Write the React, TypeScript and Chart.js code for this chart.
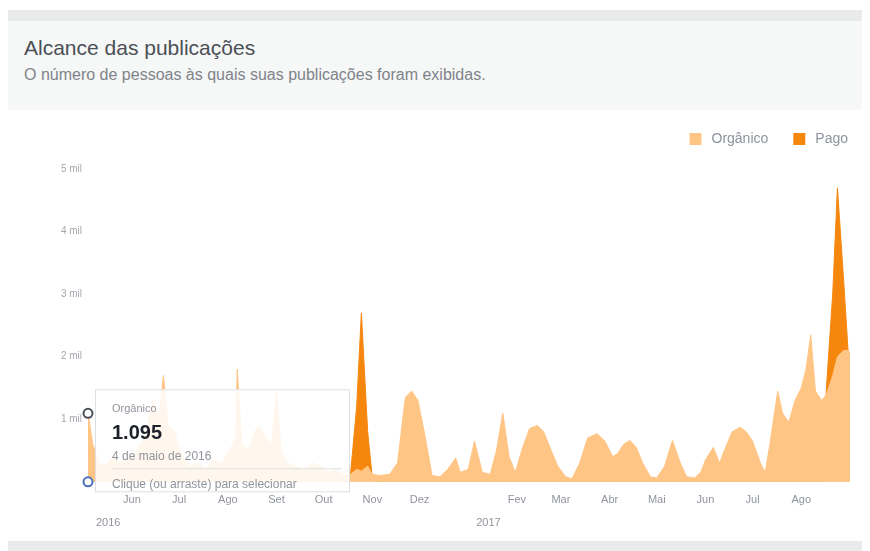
import { useEffect, useRef } from 'react';
import { Chart, registerables } from 'chart.js';

Chart.register(...registerables);

const FONTE = "'Liberation Sans', Arial, sans-serif";
Chart.defaults.font.family = FONTE;

// Datas (categorias) e séries
const datas = [
  '2016-05-04', '2016-05-07', '2016-05-11', '2016-05-15', '2016-05-20', '2016-05-24', '2016-05-29', '2016-06-04', '2016-06-09', '2016-06-11',
  '2016-06-14', '2016-06-18', '2016-06-21', '2016-06-24', '2016-06-28', '2016-07-03', '2016-07-08', '2016-07-13', '2016-07-18', '2016-07-23',
  '2016-07-28', '2016-08-02', '2016-08-06', '2016-08-07', '2016-08-10', '2016-08-14', '2016-08-18', '2016-08-21', '2016-08-25', '2016-08-29',
  '2016-09-01', '2016-09-04', '2016-09-08', '2016-09-13', '2016-09-18', '2016-09-24', '2016-09-29', '2016-10-04', '2016-10-09', '2016-10-14',
  '2016-10-18', '2016-10-22', '2016-10-25', '2016-10-29', '2016-11-01', '2016-11-06', '2016-11-12', '2016-11-17', '2016-11-22', '2016-11-26',
  '2016-11-30', '2016-12-04', '2016-12-09', '2016-12-14', '2016-12-19', '2016-12-24', '2016-12-27', '2017-01-01', '2017-01-05', '2017-01-10',
  '2017-01-15', '2017-01-19', '2017-01-23', '2017-01-27', '2017-01-31', '2017-02-04', '2017-02-09', '2017-02-14', '2017-02-18', '2017-02-22',
  '2017-02-27', '2017-03-04', '2017-03-08', '2017-03-13', '2017-03-18', '2017-03-24', '2017-03-29', '2017-04-03', '2017-04-06', '2017-04-10',
  '2017-04-14', '2017-04-18', '2017-04-22', '2017-04-27', '2017-05-01', '2017-05-06', '2017-05-11', '2017-05-16', '2017-05-20', '2017-05-25',
  '2017-05-29', '2017-06-01', '2017-06-06', '2017-06-10', '2017-06-13', '2017-06-18', '2017-06-23', '2017-06-27', '2017-07-01', '2017-07-06',
  '2017-07-09', '2017-07-12', '2017-07-17', '2017-07-20', '2017-07-24', '2017-07-28', '2017-08-01', '2017-08-04', '2017-08-07', '2017-08-10',
  '2017-08-14', '2017-08-17', '2017-08-21', '2017-08-24', '2017-08-28', '2017-08-31', '2017-09-01',
];

const organico = [
  1095, 600, 300, 250, 400, 300, 350, 500, 700, 900,
  1300, 1000, 1700, 900, 800, 400, 250, 300, 200, 350,
  300, 500, 700, 1800, 600, 500, 800, 900, 700, 600,
  1450, 500, 300, 250, 200, 300, 250, 150, 200, 100,
  120, 200, 170, 250, 120, 100, 120, 300, 1350, 1450,
  1300, 800, 100, 80, 200, 380, 150, 200, 650, 150,
  120, 500, 1100, 400, 150, 500, 850, 900, 800, 550,
  250, 80, 50, 300, 700, 770, 650, 400, 450, 600,
  660, 550, 300, 80, 60, 250, 660, 300, 80, 60,
  150, 350, 550, 300, 500, 800, 870, 800, 650, 300,
  150, 600, 1450, 1100, 950, 1300, 1500, 1800, 2350, 1450,
  1300, 1400, 1700, 2000, 2100, 2100, 2050,
];

const pago = [
  0, 0, 0, 0, 0, 0, 0, 0, 0, 0,
  0, 0, 0, 0, 0, 0, 0, 0, 0, 0,
  0, 0, 0, 0, 0, 0, 0, 0, 0, 0,
  0, 0, 0, 0, 0, 0, 0, 0, 0, 0,
  100, 1200, 2700, 800, 50, 0, 0, 0, 0, 0,
  0, 0, 0, 0, 0, 0, 0, 0, 0, 0,
  0, 0, 0, 0, 0, 0, 0, 0, 0, 0,
  0, 0, 0, 0, 0, 0, 0, 0, 0, 0,
  0, 0, 0, 0, 0, 0, 0, 0, 0, 0,
  0, 0, 0, 0, 0, 0, 0, 0, 0, 0,
  0, 0, 0, 0, 0, 0, 0, 0, 0, 0,
  0, 1500, 3000, 4700, 3200, 2000, 1800,
];

const inicioMeses = [
  '2016-06-01', '2016-07-01', '2016-08-01', '2016-09-01', '2016-10-01', '2016-11-01', '2016-12-01', '2017-01-01',
  '2017-02-01', '2017-03-01', '2017-04-01', '2017-05-01', '2017-06-01', '2017-07-01', '2017-08-01',
];
const rotulosMeses = ['Jun', 'Jul', 'Ago', 'Set', 'Out', 'Nov', 'Dez', '', 'Fev', 'Mar', 'Abr', 'Mai', 'Jun', 'Jul', 'Ago'];

const inicioAnos = ['2016-05-04', '2017-01-01'];
const rotulosAnos = ['2016', '2017'];

const ticksY = [0, 1000, 2000, 3000, 4000, 5000];
const rotulosY = ['', '1 mil', '2 mil', '3 mil', '4 mil', '5 mil'];

const nomesMeses = ['janeiro', 'fevereiro', 'março', 'abril', 'maio', 'junho', 'julho', 'agosto', 'setembro', 'outubro', 'novembro', 'dezembro'];

const series = ['Orgânico', 'Pago'];
const cores = ['#ffc585', '#f5870f'];

const indiceDica = 0;

const base = Date.parse(datas[0] + 'T00:00:00Z');
const dia = (s: string) => Math.round((Date.parse(s + 'T00:00:00Z') - base) / 86400000);

const fmtData = (s: string) => {
  const [a, m, d] = s.split('-').map(Number);
  return `${d} de ${nomesMeses[m - 1]} de ${a}`;
};

const extras = {
  id: 'extras',
  afterDraw(chart: any) {
    const { ctx, chartArea, scales } = chart;
    const xs = scales.x;
    const ys = scales.y;
    ctx.save();

    // legenda
    ctx.font = `14px ${FONTE}`;
    ctx.textBaseline = 'middle';
    ctx.textAlign = 'left';
    const ly = chartArea.top - 30;
    let right = chartArea.right - 2;
    const dsets = chart.data.datasets;
    for (let i = dsets.length - 1; i >= 0; i--) {
      const ds = dsets[i];
      const w = ctx.measureText(ds.label).width;
      ctx.fillStyle = '#8d949e';
      ctx.fillText(ds.label, right - w, ly);
      const bx = right - w - 10 - 12;
      ctx.fillStyle = ds.backgroundColor;
      ctx.fillRect(bx, ly - 6, 12, 12);
      right = bx - 25;
    }

    // anos
    ctx.font = `11px ${FONTE}`;
    ctx.fillStyle = '#90949c';
    inicioAnos.forEach((d, i) => {
      const x = xs.getPixelForValue(dia(d)) + 8;
      ctx.fillText(rotulosAnos[i], x, chartArea.bottom + 41);
    });

    // dica
    const px = xs.getPixelForValue(dia(datas[indiceDica]));
    const pyO = ys.getPixelForValue(organico[indiceDica]);
    const pyP = ys.getPixelForValue(pago[indiceDica]);
    const bx = px + 7;
    const by = pyO - 24;
    const bw = 255;
    const bh = 103;
    ctx.fillStyle = 'rgba(255,255,255,0.86)';
    ctx.fillRect(bx, by, bw, bh);
    ctx.strokeStyle = '#dddfe2';
    ctx.lineWidth = 1;
    ctx.strokeRect(bx + 0.5, by + 0.5, bw - 1, bh - 1);
    const tx = bx + 17;
    ctx.textAlign = 'left';
    ctx.textBaseline = 'middle';
    ctx.font = `11px ${FONTE}`;
    ctx.fillStyle = '#90949c';
    ctx.fillText(series[0], tx, by + 20);
    ctx.font = `bold 20px ${FONTE}`;
    ctx.fillStyle = '#1d2129';
    ctx.fillText(organico[indiceDica].toLocaleString('pt-BR'), tx, by + 44);
    ctx.font = `12px ${FONTE}`;
    ctx.fillStyle = '#90949c';
    ctx.fillText(fmtData(datas[indiceDica]), tx, by + 67);
    ctx.beginPath();
    ctx.strokeStyle = '#dddfe2';
    ctx.moveTo(tx, by + 79.5);
    ctx.lineTo(bx + bw - 8, by + 79.5);
    ctx.stroke();
    ctx.fillText('Clique (ou arraste) para selecionar', tx, by + 95);

    const circulo = (y: number, cor: string) => {
      ctx.beginPath();
      ctx.arc(px, y, 4.5, 0, Math.PI * 2);
      ctx.fillStyle = '#ffffff';
      ctx.fill();
      ctx.lineWidth = 2;
      ctx.strokeStyle = cor;
      ctx.stroke();
    };
    circulo(pyO, '#4b4f56');
    circulo(pyP, '#4a70b8');

    ctx.restore();
  },
};

export default function App() {
  const ref = useRef<HTMLCanvasElement>(null);

  useEffect(() => {
    if (!ref.current) return;
    const xs = datas.map(dia);
    const chart = new Chart(ref.current, {
      type: 'line',
      data: {
        datasets: [
          {
            label: series[0],
            data: xs.map((x, i) => ({ x, y: organico[i] })),
            backgroundColor: cores[0],
            borderColor: cores[0],
            borderWidth: 1,
            fill: 'origin',
            pointRadius: 0,
            tension: 0,
          },
          {
            label: series[1],
            data: xs.map((x, i) => ({ x, y: pago[i] })),
            backgroundColor: cores[1],
            borderColor: cores[1],
            borderWidth: 1,
            fill: 'origin',
            pointRadius: 0,
            tension: 0,
          },
        ],
      },
      options: {
        animation: false,
        responsive: true,
        maintainAspectRatio: false,
        events: [],
        layout: { padding: { top: 59, bottom: 22, right: 12, left: 0 } },
        plugins: {
          legend: { display: false },
          tooltip: { enabled: false },
        },
        scales: {
          x: {
            type: 'linear',
            min: xs[0],
            max: xs[xs.length - 1],
            grid: { display: false, drawTicks: false },
            border: { display: false },
            afterBuildTicks: (axis: any) => {
              axis.ticks = inicioMeses.map((d) => ({ value: dia(d) }));
            },
            ticks: {
              autoSkip: false,
              maxRotation: 0,
              padding: 12,
              color: '#90949c',
              font: { size: 11 },
              callback: (_v: any, i: number) => rotulosMeses[i],
            },
          },
          y: {
            min: ticksY[0],
            max: ticksY[ticksY.length - 1],
            grid: { display: false, drawTicks: false },
            border: { display: false },
            afterFit: (s: any) => {
              s.width = 80;
            },
            afterBuildTicks: (axis: any) => {
              axis.ticks = ticksY.map((v) => ({ value: v }));
            },
            ticks: {
              padding: 6,
              color: '#a3a8ae',
              font: { size: 10 },
              callback: (_v: any, i: number) => rotulosY[i],
            },
          },
        },
      },
      plugins: [extras],
    } as any);
    return () => chart.destroy();
  }, []);

  return (
    <div style={{ width: 854, fontFamily: FONTE }}>
      <div style={{ height: 2 }} />
      <div style={{ height: 11, background: '#e9eaeb' }} />
      <div style={{ height: 89, background: '#f6f7f7', paddingLeft: 16, boxSizing: 'border-box', overflow: 'hidden' }}>
        <div style={{ height: 16 }} />
        <div style={{ fontSize: 21, lineHeight: '21px', color: '#4b4f56', whiteSpace: 'nowrap' }}>Alcance das publicações</div>
        <div style={{ height: 9 }} />
        <div style={{ fontSize: 16, lineHeight: '16px', color: '#7f8389', whiteSpace: 'nowrap' }}>
          O número de pessoas às quais suas publicações foram exibidas.
        </div>
      </div>
      <div style={{ position: 'relative', height: 431, background: '#ffffff' }}>
        <canvas ref={ref} />
      </div>
      <div style={{ height: 12, background: '#e9eaeb' }} />
    </div>
  );
}
